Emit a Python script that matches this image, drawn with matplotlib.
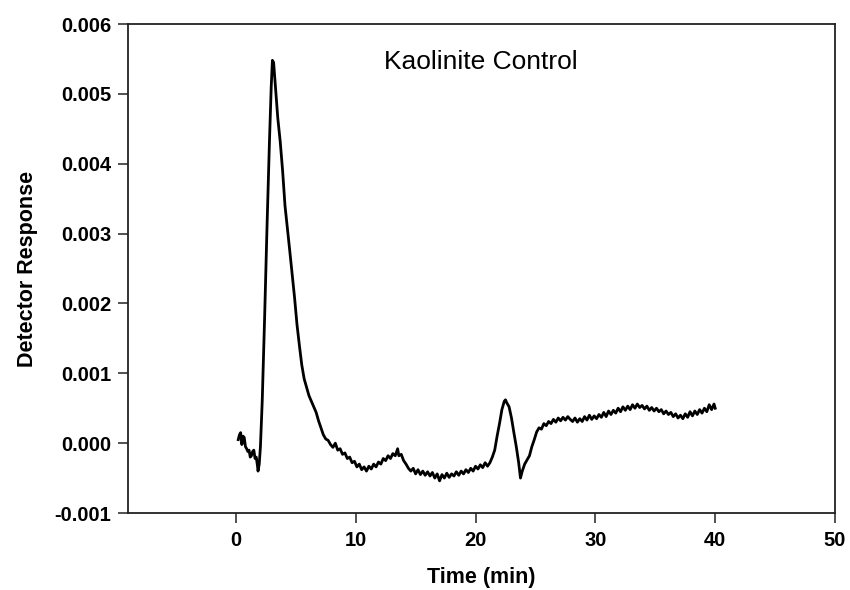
import matplotlib
matplotlib.use("Agg")
import matplotlib.pyplot as plt
from matplotlib.ticker import FormatStrFormatter

plt.rcParams['font.family'] = ['Liberation Sans', 'DejaVu Sans']

time_min = [
    0.2, 0.3, 0.4, 0.5, 0.6, 0.7, 0.8, 0.9, 1.0, 1.1, 1.2, 1.3, 1.4, 1.5, 1.6, 1.7, 1.8, 1.85, 1.95,
    2.05, 2.2, 2.4, 2.6, 2.8, 2.95, 3.05, 3.15, 3.3, 3.5, 3.7, 3.9, 4.1, 4.3, 4.5, 4.7, 4.9,
    5.1, 5.3, 5.5, 5.7, 5.9, 6.1, 6.3, 6.5, 6.7, 6.9, 7.1, 7.3, 7.5, 7.7, 7.9,
    8.1, 8.3, 8.5, 8.7, 8.9, 9.1, 9.3, 9.5, 9.7, 9.9, 10.1, 10.3, 10.5, 10.7, 10.9,
    11.1, 11.3, 11.5, 11.7, 11.9, 12.1, 12.3, 12.5, 12.7, 12.9, 13.1, 13.3, 13.5, 13.6, 13.8,
    14.0, 14.2, 14.4, 14.6, 14.8, 15.0, 15.2, 15.4, 15.6, 15.8, 16.0, 16.2, 16.4, 16.6, 16.8,
    17.0, 17.2, 17.4, 17.6, 17.8, 18.0, 18.2, 18.4, 18.6, 18.8, 19.0, 19.2, 19.4, 19.6, 19.8,
    20.0, 20.2, 20.4, 20.6, 20.8, 21.0, 21.2, 21.4, 21.6, 21.8, 22.0, 22.2, 22.4, 22.5, 22.6,
    22.8, 23.0, 23.2, 23.4, 23.6, 23.75, 23.9, 24.1, 24.3, 24.5, 24.7, 24.9,
    25.1, 25.3, 25.5, 25.7, 25.9, 26.1, 26.3, 26.5, 26.7, 26.9, 27.1, 27.3, 27.5, 27.7, 27.9,
    28.1, 28.3, 28.5, 28.7, 28.9, 29.1, 29.3, 29.5, 29.7, 29.9, 30.1, 30.3, 30.5, 30.7, 30.9,
    31.1, 31.3, 31.5, 31.7, 31.9, 32.1, 32.3, 32.5, 32.7, 32.9, 33.1, 33.3, 33.5, 33.7, 33.9,
    34.1, 34.3, 34.5, 34.7, 34.9, 35.1, 35.3, 35.5, 35.7, 35.9, 36.1, 36.3, 36.5, 36.7, 36.9,
    37.1, 37.3, 37.5, 37.7, 37.9, 38.1, 38.3, 38.5, 38.7, 38.9, 39.1, 39.3, 39.5, 39.7, 39.9, 40.0,
]

response = [
    0.00005, 0.00012, 0.00015, -0.00002, 0.00010, 0.00008, -0.00005, -0.00008, -0.00012, -0.00010,
    -0.00020, -0.00018, -0.00012, -0.00010, -0.00022, -0.00020, -0.00032, -0.00040, -0.00030,
    -0.00005, 0.00060, 0.00180, 0.00310, 0.00430, 0.00510, 0.00548, 0.00545, 0.00510, 0.00465,
    0.00432, 0.00390, 0.00340, 0.00308, 0.00275, 0.00242, 0.00208,
    0.00170, 0.00140, 0.00112, 0.00092, 0.00080, 0.00068, 0.00060, 0.00052, 0.00044, 0.00032,
    0.00022, 0.00012, 0.00006, 0.00004, -0.00002,
    -0.00006, 0.00000, -0.00010, -0.00008, -0.00016, -0.00014, -0.00022, -0.00020, -0.00028, -0.00026,
    -0.00034, -0.00030, -0.00038, -0.00034, -0.00040,
    -0.00033, -0.00037, -0.00030, -0.00034, -0.00027, -0.00030, -0.00022, -0.00025, -0.00018, -0.00022,
    -0.00015, -0.00018, -0.00008, -0.00018, -0.00016,
    -0.00025, -0.00030, -0.00036, -0.00040, -0.00036, -0.00044, -0.00038, -0.00045, -0.00040, -0.00046,
    -0.00041, -0.00047, -0.00042, -0.00050, -0.00044,
    -0.00054, -0.00045, -0.00050, -0.00043, -0.00049, -0.00044, -0.00047, -0.00041, -0.00046, -0.00040,
    -0.00044, -0.00038, -0.00042, -0.00036, -0.00040,
    -0.00033, -0.00037, -0.00031, -0.00035, -0.00028, -0.00033, -0.00028, -0.00020, -0.00010, 0.00010,
    0.00028, 0.00048, 0.00060, 0.00062, 0.00058,
    0.00052, 0.00036, 0.00015, -0.00005, -0.00028, -0.00050, -0.00040, -0.00030, -0.00024, -0.00018,
    -0.00005, 0.00005,
    0.00016, 0.00022, 0.00020, 0.00028, 0.00025, 0.00031, 0.00028, 0.00034, 0.00030, 0.00036,
    0.00032, 0.00037, 0.00033, 0.00038, 0.00034,
    0.00031, 0.00036, 0.00030, 0.00035, 0.00031, 0.00038, 0.00033, 0.00040, 0.00034, 0.00039,
    0.00035, 0.00041, 0.00037, 0.00044, 0.00038,
    0.00046, 0.00041, 0.00047, 0.00043, 0.00050, 0.00045, 0.00052, 0.00047, 0.00053, 0.00048,
    0.00055, 0.00050, 0.00056, 0.00051, 0.00054,
    0.00049, 0.00053, 0.00047, 0.00051, 0.00046, 0.00050, 0.00045, 0.00048, 0.00042, 0.00046,
    0.00041, 0.00044, 0.00038, 0.00042, 0.00036,
    0.00040, 0.00035, 0.00042, 0.00037, 0.00045, 0.00039, 0.00046, 0.00041, 0.00048, 0.00043,
    0.00050, 0.00045, 0.00055, 0.00048, 0.00056, 0.00050,
]

x_ticks = [0, 10, 20, 30, 40, 50]
y_ticks = [-0.001, 0.000, 0.001, 0.002, 0.003, 0.004, 0.005, 0.006]
title_text = "Kaolinite Control"

fig = plt.figure(figsize=(8.5, 5.9), dpi=100)
ax = fig.add_axes([0.1506, 0.1305, 0.8318, 0.8288])

ax.plot(time_min, response, color='black', linewidth=2.0)

ax.set_xlim(-9, 50)
ax.set_ylim(-0.001, 0.006)
ax.set_xticks(x_ticks)
ax.set_yticks(y_ticks)
ax.yaxis.set_major_formatter(FormatStrFormatter('%.3f'))

for s in ax.spines.values():
    s.set_linewidth(1.3)
    s.set_color('#222222')

ax.tick_params(axis='both', direction='out', length=7, width=1.1, color='#222222',
               labelsize=14.5, pad=5)
for lab in ax.get_xticklabels() + ax.get_yticklabels():
    lab.set_fontweight('bold')
ax.tick_params(axis='x', pad=6)

ax.set_xlabel("Time (min)", fontsize=15.5, fontweight='bold', labelpad=12)
ax.set_ylabel("Detector Response", fontsize=15.5, fontweight='bold', labelpad=12)

ax.text(20.4, 0.00546, title_text, ha='center', va='center', fontsize=19)

fig.savefig("out.png", dpi=100)
